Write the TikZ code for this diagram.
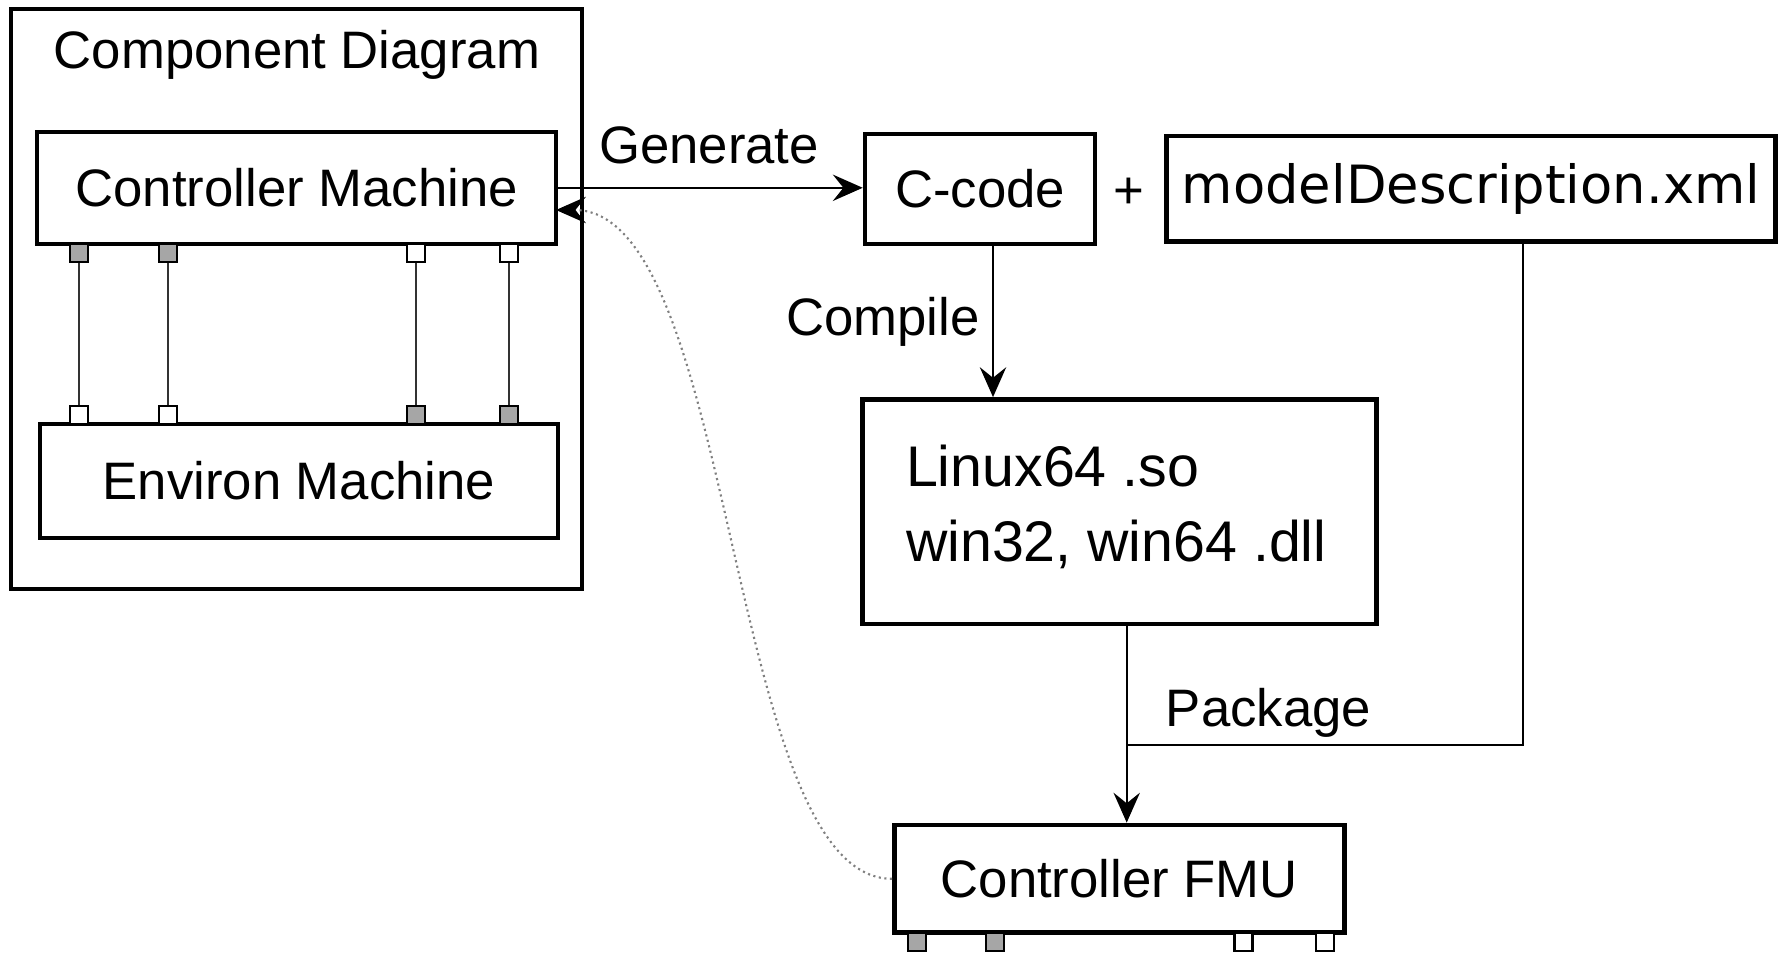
\documentclass[tikz,border=0pt]{standalone}
\usepackage{fontspec}
\setmainfont{Liberation Sans}
\newfontfamily\dejavu{DejaVu Sans}
\usetikzlibrary{arrows.meta, positioning}

\tikzset{
  box/.style={draw, line width=1.3pt, inner sep=0pt, font=\fontsize{15}{18}\selectfont},
  port/.style={draw, line width=0.6pt, minimum size=0.18cm, inner sep=0pt, fill=white},
  portg/.style={port, fill=gray!70},
  link/.style={line width=0.6pt, black!80},
  flow/.style={line width=0.6pt, black},
  lbl/.style={font=\fontsize{15}{18}\selectfont},
  flowtip/.tip={Stealth[length=8.5pt,width=7.5pt,inset=3pt]}
}

\begin{document}
\begin{tikzpicture}[>=flowtip]
	\useasboundingbox (0,0) rectangle (17.79,-9.56);

	% component diagram
	\node[box, minimum width=5.71cm, minimum height=5.8cm] (comp) at (2.965,-2.99) {};
	\node[lbl] (title) at (2.97,-0.545) {Component Diagram};
	\node[box, minimum width=5.19cm, minimum height=1.12cm] (cm) at (2.967,-1.878) {Controller Machine};
	\node[box, minimum width=5.18cm, minimum height=1.14cm] (em) at (2.99,-4.81) {Environ Machine};

	\node[portg] (cp1) at (0.794,-2.53) {};
	\node[portg] (cp2) at (1.679,-2.53) {};
	\node[port]  (cp3) at (4.164,-2.53) {};
	\node[port]  (cp4) at (5.094,-2.53) {};
	\node[port]  (ep1) at (0.794,-4.15) {};
	\node[port]  (ep2) at (1.679,-4.15) {};
	\node[portg] (ep3) at (4.164,-4.15) {};
	\node[portg] (ep4) at (5.094,-4.15) {};

	\draw[link] (cp1.south) -- (ep1.north);
	\draw[link] (cp2.south) -- (ep2.north);
	\draw[link] (cp3.south) -- (ep3.north);
	\draw[link] (cp4.south) -- (ep4.north);

	% generated artefacts
	\node[box, minimum width=2.30cm, minimum height=1.10cm] (cc) at (9.80,-1.889) {C-code};
	\node[lbl] (plus) at (11.29,-1.93) {+};
	\node[box, minimum width=6.09cm, minimum height=1.055cm, font=\dejavu\fontsize{15}{18}\selectfont] (md) at (14.71,-1.889) {modelDescription.xml};
	\node[box, minimum width=5.14cm, minimum height=2.246cm] (lx) at (11.193,-5.117) {};
	\node[lbl, anchor=west, align=left, inner sep=0pt, font=\fontsize{16.3}{21.5}\selectfont]
		(lxt) at ([xshift=4.54mm, yshift=0.5mm]lx.west) {Linux64 .so\\win32, win64 .dll};
	\node[box, minimum width=4.50cm, minimum height=1.078cm] (fmu) at (11.193,-8.788) {Controller FMU};

	\node[portg] (fp1) at (9.168,-9.417) {};
	\node[portg] (fp2) at (9.951,-9.417) {};
	\node[port]  (fp3) at (12.435,-9.417) {};
	\node[port]  (fp4) at (13.252,-9.417) {};

	% steps
	\node[lbl] (lgen) at (7.09,-1.452) {Generate};
	\node[lbl] (lcomp) at (8.83,-3.22) {Compile};
	\node[lbl] (lpack) at (12.685,-7.125) {Package};
	\coordinate (pk) at (11.267,-7.454);

	\draw[flow, ->] (cm.east) -- (cm.east -| cc.west);
	\draw[flow, ->] ([xshift=1.3mm]cc.south) -- ([xshift=1.3mm]cc.south |- lx.north);
	\draw[flow, ->] ([xshift=0.74mm]lx.south) -- ([xshift=0.74mm]lx.south |- fmu.north);
	\draw[flow] ([xshift=5.16mm]md.south) |- (pk);

	\draw[densely dotted, line width=0.6pt, gray, -{flowtip[black]}] (fmu.west)
		.. controls (7.26,-8.79) and (7.375,-2.10) .. (5.56,-2.10);
\end{tikzpicture}
\end{document}
